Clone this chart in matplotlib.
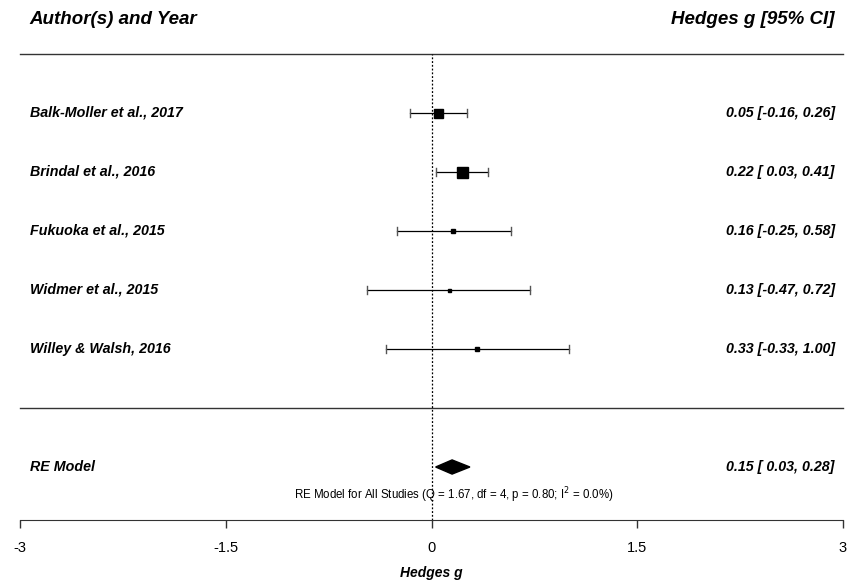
import matplotlib
matplotlib.use("Agg")
import matplotlib.pyplot as plt
from matplotlib.patches import Polygon

plt.rcParams['font.family'] = ['Liberation Sans', 'DejaVu Sans']

# study-level effect sizes (Hedges g) with 95% CI
studies = ["Balk-Moller et al., 2017", "Brindal et al., 2016", "Fukuoka et al., 2015",
           "Widmer et al., 2015", "Willey & Walsh, 2016"]
est = [0.05, 0.22, 0.16, 0.13, 0.33]
ci_lo = [-0.16, 0.03, -0.25, -0.47, -0.33]
ci_hi = [0.26, 0.41, 0.58, 0.72, 1.00]
box_px = [9, 11, 4, 3, 4]  # marker size in points, scaled by study weight

# random-effects summary
re_est, re_lo, re_hi = 0.15, 0.03, 0.28
re_note = r"RE Model for All Studies (Q = 1.67, df = 4, p = 0.80; I$^2$ = 0.0%)"

xticks = [-3, -1.5, 0, 1.5, 3]

fig = plt.figure(figsize=(8.5, 5.82), dpi=100)
ax = fig.add_axes([0, 0, 1, 1])
ax.set_xlim(-3.146, 3.051)
ax.set_ylim(-2.949, 6.915)

k = len(studies)
rows = list(range(k, 0, -1))
xl, xr = -2.93, 2.94
lab_kw = dict(fontsize=10.3, fontweight='bold', fontstyle='italic', va='center')

for y, name, m, lo, hi, s in zip(rows, studies, est, ci_lo, ci_hi, box_px):
    ax.plot([lo, hi], [y, y], color='black', lw=0.9)
    ax.plot([lo, lo], [y - 0.06, y + 0.06], color='#555555', lw=1.0)
    ax.plot([hi, hi], [y - 0.06, y + 0.06], color='#555555', lw=1.0)
    ax.plot(m, y, marker='s', ms=s * 0.72, color='black', mec='black')
    ax.text(xl, y, name, ha='left', **lab_kw)
    ax.text(xr, y, f"{m:.2f} [{lo:5.2f}, {hi:.2f}]", ha='right', **lab_kw)

# summary diamond
y_re = -1
ax.add_patch(Polygon([[re_lo, y_re], [re_est, y_re + 0.12], [re_hi, y_re], [re_est, y_re - 0.12]],
                     closed=True, color='black'))
ax.text(xl, y_re, "RE Model", ha='left', **lab_kw)
ax.text(xr, y_re, f"{re_est:.2f} [{re_lo:5.2f}, {re_hi:.2f}]", ha='right', **lab_kw)
ax.text(0.165, -1.48, re_note, ha='center', va='center', fontsize=8.3)

# header and separators
ax.text(xl, 6.58, "Author(s) and Year", ha='left', va='center', fontsize=13.5,
        fontweight='bold', fontstyle='italic')
ax.text(xr, 6.58, "Hedges g [95% CI]", ha='right', va='center', fontsize=13.5,
        fontweight='bold', fontstyle='italic')
ax.plot([-3, 3], [6, 6], color='#333333', lw=1.0)
ax.plot([-3, 3], [0, 0], color='#333333', lw=1.0)
ax.plot([0, 0], [-1.9, 6], color='black', lw=0.9, ls=(0, (1.5, 1.5)))

# x axis drawn at the bottom of the panel
for side in ['top', 'right', 'left']:
    ax.spines[side].set_visible(False)
ax.spines['bottom'].set_position(('data', -1.9))
ax.spines['bottom'].set_bounds(-3, 3)
ax.spines['bottom'].set_color('#333333')
ax.set_xticks(xticks)
ax.set_xticklabels(["-3", "-1.5", "0", "1.5", "3"])
ax.tick_params(axis='x', length=6, width=1.0, color='#333333', pad=9, labelsize=10.5)
ax.set_yticks([])
ax.text(0, -2.79, "Hedges g", ha='center', va='center', fontsize=10,
        fontweight='bold', fontstyle='italic')

fig.savefig("out.png", dpi=100)
